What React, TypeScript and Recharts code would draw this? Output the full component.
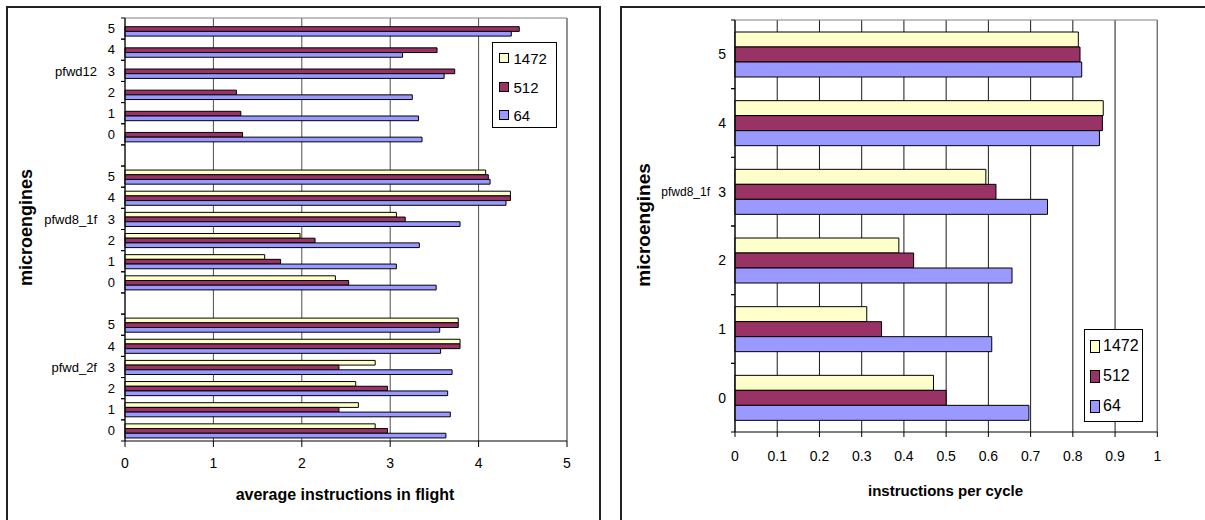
import { BarChart, Bar, XAxis, YAxis, CartesianGrid, Legend, ReferenceLine, Label } from "recharts";

const engines = ["5", "4", "3", "2", "1", "0"];
const groups = ["pfwd12", "pfwd8_1f", "pfwd_2f"];
const seriesNames = ["1472", "512", "64"];
const seriesKeys = ["s1472", "s512", "s64"];
const seriesColors = ["#FFFFCC", "#993366", "#9999FF"];

// average instructions in flight, engines 5..0 inside each group (pfwd12, pfwd8_1f, pfwd_2f)
const flight1472 = [
  null, null, null, null, null, null,
  4.08, 4.36, 3.07, 1.98, 1.58, 2.38,
  3.77, 3.79, 2.83, 2.61, 2.64, 2.83,
];
const flight512 = [
  4.46, 3.53, 3.73, 1.26, 1.31, 1.33,
  4.11, 4.36, 3.17, 2.15, 1.76, 2.53,
  3.77, 3.79, 2.42, 2.97, 2.42, 2.97,
];
const flight64 = [
  4.37, 3.14, 3.61, 3.25, 3.32, 3.36,
  4.13, 4.31, 3.79, 3.33, 3.07, 3.52,
  3.56, 3.57, 3.7, 3.65, 3.68, 3.63,
];

// pfwd8_1f instructions per cycle, engines 5..0
const ipc1472 = [0.813, 0.872, 0.594, 0.388, 0.312, 0.47];
const ipc512 = [0.817, 0.87, 0.618, 0.423, 0.347, 0.5];
const ipc64 = [0.821, 0.863, 0.74, 0.656, 0.608, 0.696];

const flightTicks = [0, 1, 2, 3, 4, 5];
const ipcTicks = [0, 0.1, 0.2, 0.3, 0.4, 0.5, 0.6, 0.7, 0.8, 0.9, 1];

const flightRows: any[] = [];
groups.forEach((g, gi) => {
  if (gi > 0) flightRows.push({ key: "gap" + gi });
  engines.forEach((e, ei) => {
    const i = gi * 6 + ei;
    flightRows.push({ key: g + "|" + e, s1472: flight1472[i], s512: flight512[i], s64: flight64[i] });
  });
});

const ipcRows = engines.map((e, i) => ({
  key: "pfwd8_1f|" + e,
  s1472: ipc1472[i],
  s512: ipc512[i],
  s64: ipc64[i],
}));

const ff = "'Liberation Sans', Arial, sans-serif";
const ffn = "'Liberation Sans Narrow', 'Arial Narrow', 'Liberation Sans', Arial, sans-serif";

// left chart geometry
const W1 = 600, H1 = 520, PL1 = 125, PT1 = 18, PR1 = 567, PB1 = 441;
// right chart geometry (relative to its own box at x=600)
const W2 = 605, H2 = 520, PL2 = 135, PT2 = 20, PR2 = 557.3, PB2 = 432;
const YW = 100, XH = 30;

function makeTick(pl: number, band: number, tickFont: string, tickSize: number, labelGap: number, groupFont: string, groupSize: number, groupGap: number) {
  return (props: any) => {
    const { y, payload } = props;
    const [group, eng] = String(payload.value).split("|");
    const top = y - band / 2;
    const bot = y + band / 2;
    return (
      <g>
        <line x1={pl - 4} x2={pl} y1={top} y2={top} stroke="#000" />
        <line x1={pl - 4} x2={pl} y1={bot} y2={bot} stroke="#000" />
        {eng !== undefined && (
          <text x={pl - labelGap} y={y} dy="0.36em" textAnchor="end" fontSize={tickSize} fontFamily={tickFont} fill="#000">
            {eng}
          </text>
        )}
        {eng === "3" && (
          <text x={pl - groupGap} y={y} dy="0.36em" textAnchor="end" fontSize={groupSize} fontFamily={groupFont} fill="#000">
            {group}
          </text>
        )}
      </g>
    );
  };
}

function LegendBox({ w, h, rows, sw, swH, swX, textX, fontSize, fontFamily }: any) {
  const lh = Math.round(fontSize * 1.15);
  return (
    <div style={{ position: "relative", width: w, height: h, boxSizing: "border-box", border: "1px solid #000", background: "#fff" }}>
      {seriesNames.map((n, i) => (
        <div key={n}>
          <div
            style={{
              position: "absolute", left: swX, top: rows[i] - swH / 2, width: sw, height: swH,
              boxSizing: "border-box", border: "1px solid #000", background: seriesColors[i],
            }}
          />
          <div
            style={{
              position: "absolute", left: textX, top: rows[i] - lh / 2, height: lh, lineHeight: lh + "px",
              fontSize, fontFamily, color: "#000", whiteSpace: "nowrap",
            }}
          >
            {n}
          </div>
        </div>
      ))}
    </div>
  );
}

export default function App() {
  const band1 = (PB1 - PT1) / flightRows.length;
  const band2 = (PB2 - PT2) / ipcRows.length;
  const leftTick = makeTick(PL1, band1, ff, 13, 10, ff, 13, 28);
  const rightTick = makeTick(PL2, band2, ffn, 14, 9, ff, 12, 25);

  return (
    <div style={{ position: "absolute", left: 0, top: 0, width: 1205, height: 520, overflow: "hidden", background: "#fff", fontFamily: ff }}>
      <div style={{ position: "absolute", left: 6, top: 6, width: 595, height: 540, boxSizing: "border-box", border: "2px solid #222" }} />
      <div style={{ position: "absolute", left: 620, top: 6, width: 620, height: 540, boxSizing: "border-box", border: "2px solid #222" }} />

      <div style={{ position: "absolute", left: 0, top: 0 }}>
        <BarChart
          width={W1}
          height={H1}
          data={flightRows}
          layout="vertical"
          barSize={4.7}
          barGap={0}
          margin={{ top: PT1, right: W1 - PR1, bottom: H1 - PB1 - XH, left: PL1 - YW }}
        >
          <CartesianGrid horizontal={false} stroke="#4d4d4d" strokeOpacity={1} />
          <CartesianGrid vertical={false} horizontalPoints={[PT1]} stroke="#808080" />
          <ReferenceLine x={5} stroke="#808080" />
          <XAxis
            type="number"
            domain={[0, 5]}
            ticks={flightTicks}
            interval={0}
            height={XH}
            tickSize={6}
            tickMargin={11}
            axisLine={{ stroke: "#000" }}
            tickLine={{ stroke: "#000" }}
            tick={{ fill: "#000", fontSize: 14, fontFamily: ff }}
          >
            <Label
              content={() => (
                <text x={345} y={499.5} textAnchor="middle" fontSize={16} fontWeight="bold" fontFamily={ff} fill="#000">
                  average instructions in flight
                </text>
              )}
            />
          </XAxis>
          <YAxis
            type="category"
            dataKey="key"
            width={YW}
            interval={0}
            tickLine={false}
            axisLine={{ stroke: "#000" }}
            tick={leftTick}
          >
            <Label
              content={() => (
                <text x={32} y={227.5} transform="rotate(-90 32 227.5)" textAnchor="middle" fontSize={18} fontWeight="bold" fontFamily={ff} fill="#000">
                  microengines
                </text>
              )}
            />
          </YAxis>
          {seriesKeys.map((k, i) => (
            <Bar key={k} dataKey={k} name={seriesNames[i]} fill={seriesColors[i]} stroke="#000" strokeWidth={1} isAnimationActive={false} />
          ))}
          <Legend
            layout="vertical"
            align="center"
            verticalAlign="middle"
            wrapperStyle={{ left: 492, top: 42, width: 65, height: 86 }}
            content={() => (
              <LegendBox w={65} h={86} rows={[15, 44, 72]} sw={10} swH={10} swX={5.5} textX={20.5} fontSize={15} fontFamily={ff} />
            )}
          />
        </BarChart>
      </div>

      <div style={{ position: "absolute", left: 600, top: 0 }}>
        <BarChart
          width={W2}
          height={H2}
          data={ipcRows}
          layout="vertical"
          barSize={15}
          barGap={0}
          margin={{ top: PT2, right: W2 - PR2, bottom: H2 - PB2 - XH, left: PL2 - YW }}
        >
          <CartesianGrid horizontal={false} stroke="#1a1a1a" />
          <CartesianGrid vertical={false} horizontalPoints={[PT2]} stroke="#808080" />
          <ReferenceLine x={1} stroke="#808080" />
          <XAxis
            type="number"
            domain={[0, 1]}
            ticks={ipcTicks}
            interval={0}
            height={XH}
            tickSize={5}
            tickMargin={14}
            axisLine={{ stroke: "#000" }}
            tickLine={{ stroke: "#000" }}
            tick={{ fill: "#000", fontSize: 14, fontFamily: ffn }}
          >
            <Label
              content={() => (
                <text x={345.5} y={496} textAnchor="middle" fontSize={15} fontWeight="bold" fontFamily={ff} fill="#000">
                  instructions per cycle
                </text>
              )}
            />
          </XAxis>
          <YAxis
            type="category"
            dataKey="key"
            width={YW}
            interval={0}
            tickLine={false}
            axisLine={{ stroke: "#000" }}
            tick={rightTick}
          >
            <Label
              content={() => (
                <text x={50} y={225} transform="rotate(-90 50 225)" textAnchor="middle" fontSize={19} fontWeight="bold" fontFamily={ff} fill="#000">
                  microengines
                </text>
              )}
            />
          </YAxis>
          {seriesKeys.map((k, i) => (
            <Bar key={k} dataKey={k} name={seriesNames[i]} fill={seriesColors[i]} stroke="#000" strokeWidth={1} isAnimationActive={false} />
          ))}
          <Legend
            layout="vertical"
            align="center"
            verticalAlign="middle"
            wrapperStyle={{ left: 484, top: 329, width: 59, height: 93 }}
            content={() => (
              <LegendBox w={59} h={93} rows={[16, 46, 76]} sw={10} swH={13} swX={5} textX={18} fontSize={16} fontFamily={ffn} />
            )}
          />
        </BarChart>
      </div>
    </div>
  );
}
